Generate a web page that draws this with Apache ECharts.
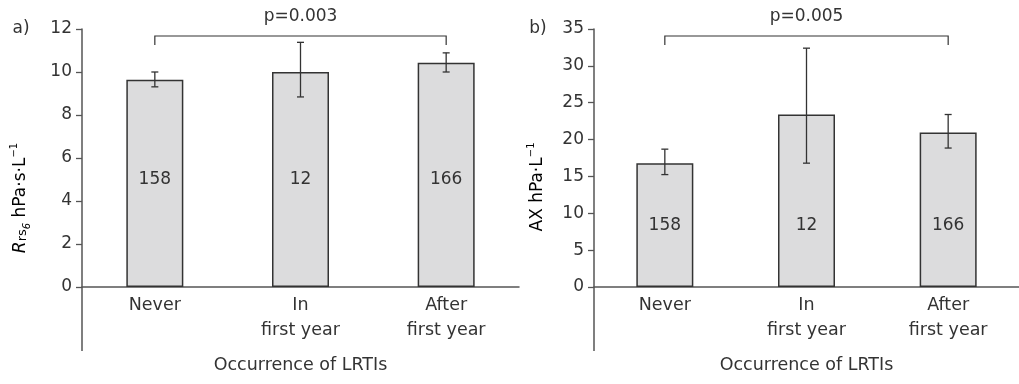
<!DOCTYPE html>
<html>
<head>
<meta charset="utf-8">
<script src="https://cdn.jsdelivr.net/npm/echarts@6/dist/echarts.min.js"></script>
<style>
  html, body { margin: 0; padding: 0; background: #fff; }
  #chart { width: 1019px; height: 384px; }
</style>
</head>
<body>
<div id="chart"></div>
<script>
// Occurrence of lower respiratory tract infections (LRTIs)
const categories = ['Never', 'In\nfirst year', 'After\nfirst year'];
const groupSizes = [158, 12, 166];

// a) Rrs6, hPa·s·L-1 : mean with lower / upper error limits
const rrsMean = [9.64, 10.0, 10.43];
const rrsLow = [9.31, 8.84, 10.0];
const rrsHigh = [10.0, 11.38, 10.89];
const rrsAxis = { min: 0, max: 12, interval: 2 };

// b) AX, hPa·L-1 : mean with lower / upper error limits
const axMean = [16.8, 23.4, 20.95];
const axLow = [15.25, 16.8, 18.85];
const axHigh = [18.7, 32.4, 23.4];
const axAxis = { min: 0, max: 35, interval: 5 };

const pLabels = ['p=0.003', 'p=0.005'];
const panelLetters = ['a)', 'b)'];
const xTitle = 'Occurrence of LRTIs';

const FONT = 'DejaVu Sans';
const INK = '#333';
const AXIS = '#555';
const GRID_TOP = 29, PLOT_H = 258;
const grids = [
  { left: 82, top: GRID_TOP, width: 437, height: PLOT_H },
  { left: 594, top: GRID_TOP, width: 435, height: PLOT_H }
];

function errorBars(low, high) {
  return low.map((v, i) => [i, v, high[i]]);
}

function renderError(params, api) {
  const x = api.coord([api.value(0), 0])[0];
  const yLo = api.coord([api.value(0), api.value(1)])[1];
  const yHi = api.coord([api.value(0), api.value(2)])[1];
  const cap = 3.5;
  const style = { stroke: INK, lineWidth: 1.3 };
  return {
    type: 'group',
    children: [
      { type: 'line', shape: { x1: x, y1: yLo, x2: x, y2: yHi }, style },
      { type: 'line', shape: { x1: x - cap, y1: yHi, x2: x + cap, y2: yHi }, style },
      { type: 'line', shape: { x1: x - cap, y1: yLo, x2: x + cap, y2: yLo }, style }
    ]
  };
}

function bracketRenderer(text) {
  return function (params, api) {
    const top = params.coordSys.y;
    const xa = api.coord([api.value(0), 0])[0];
    const xb = api.coord([api.value(1), 0])[0];
    const yBar = top + 7, yEnd = top + 16;
    const style = { stroke: INK, lineWidth: 1.2, fill: null };
    return {
      type: 'group',
      children: [
        { type: 'polyline', shape: { points: [[xa, yEnd], [xa, yBar], [xb, yBar], [xb, yEnd]] }, style },
        { type: 'text', x: (xa + xb) / 2, y: top - 12,
          style: { text: text, fill: INK, font: '17px ' + FONT, align: 'center', verticalAlign: 'middle' } }
      ]
    };
  };
}

function xAxisFor(idx) {
  return {
    type: 'category', gridIndex: idx, data: categories,
    axisLine: { lineStyle: { color: AXIS, width: 1.5 } },
    axisTick: { show: false },
    axisLabel: { color: INK, fontFamily: FONT, fontSize: 17.5, lineHeight: 25, margin: 6 },
    name: xTitle, nameLocation: 'middle', nameGap: 69,
    nameTextStyle: { color: INK, fontFamily: FONT, fontSize: 17.5 }
  };
}

function yAxisFor(idx, range) {
  return {
    type: 'value', gridIndex: idx, min: range.min, max: range.max, interval: range.interval,
    axisLine: { show: true, lineStyle: { color: AXIS, width: 1.5 } },
    axisTick: { show: true, length: 6, lineStyle: { color: AXIS, width: 1.3 } },
    axisLabel: { color: INK, fontFamily: FONT, fontSize: 17, margin: 10 },
    splitLine: { show: false }
  };
}

function barSeries(idx, values, labelDistance) {
  return {
    type: 'bar', xAxisIndex: idx, yAxisIndex: idx, barWidth: 57,
    data: values,
    itemStyle: { color: '#dcdcdd', borderColor: INK, borderWidth: 1.5 },
    label: {
      show: true, position: 'insideBottom', distance: labelDistance,
      formatter: p => String(groupSizes[p.dataIndex]),
      color: INK, fontFamily: FONT, fontSize: 17
    },
    silent: true
  };
}

const rich = {
  it: { fontFamily: FONT, fontSize: 17, fontStyle: 'italic', color: INK },
  sm: { fontFamily: FONT, fontSize: 13, color: INK, verticalAlign: 'bottom' },
  sub: { fontFamily: FONT, fontSize: 10, fontStyle: 'italic', color: INK, verticalAlign: 'bottom', padding: [0, 0, -3, 0] },
  n: { fontFamily: FONT, fontSize: 17, color: INK },
  sup: { fontFamily: FONT, fontSize: 10, color: INK, verticalAlign: 'top', padding: [-3, 0, 0, 0] }
};

const chart = echarts.init(document.getElementById('chart'), null, { renderer: 'canvas' });
chart.setOption({
  animation: false,
  backgroundColor: '#fff',
  grid: grids,
  xAxis: [xAxisFor(0), xAxisFor(1)],
  yAxis: [yAxisFor(0, rrsAxis), yAxisFor(1, axAxis)],
  series: [
    barSeries(0, rrsMean, 99),
    barSeries(1, axMean, 53),
    { type: 'custom', xAxisIndex: 0, yAxisIndex: 0, data: errorBars(rrsLow, rrsHigh), renderItem: renderError, silent: true, z: 5 },
    { type: 'custom', xAxisIndex: 1, yAxisIndex: 1, data: errorBars(axLow, axHigh), renderItem: renderError, silent: true, z: 5 },
    { type: 'custom', xAxisIndex: 0, yAxisIndex: 0, data: [[0, 2]], renderItem: bracketRenderer(pLabels[0]), silent: true, clip: false },
    { type: 'custom', xAxisIndex: 1, yAxisIndex: 1, data: [[0, 2]], renderItem: bracketRenderer(pLabels[1]), silent: true, clip: false }
  ],
  graphic: [
    // y axes continue below the baseline
    { type: 'line', shape: { x1: grids[0].left, y1: GRID_TOP + PLOT_H, x2: grids[0].left, y2: 351 }, style: { stroke: AXIS, lineWidth: 1.5 } },
    { type: 'line', shape: { x1: grids[1].left, y1: GRID_TOP + PLOT_H, x2: grids[1].left, y2: 351 }, style: { stroke: AXIS, lineWidth: 1.5 } },
    { type: 'text', x: 21, y: 29, style: { text: panelLetters[0], fill: INK, font: '17px ' + FONT, align: 'center', verticalAlign: 'middle' } },
    { type: 'text', x: 538, y: 29, style: { text: panelLetters[1], fill: INK, font: '17px ' + FONT, align: 'center', verticalAlign: 'middle' } },
    { type: 'text', x: 21, y: 198, rotation: Math.PI / 2,
      style: { text: '{it|R}{sm|rs}{sub|6}{n| hPa·s·L}{sup|−1}', rich: rich, align: 'center', verticalAlign: 'middle' } },
    { type: 'text', x: 538, y: 187, rotation: Math.PI / 2,
      style: { text: '{n|AX hPa·L}{sup|−1}', rich: rich, align: 'center', verticalAlign: 'middle' } }
  ]
});
</script>
</body>
</html>
